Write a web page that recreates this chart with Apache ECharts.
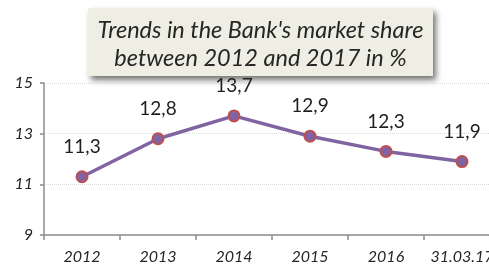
<!DOCTYPE html>
<html>
<head>
<meta charset="utf-8">
<script src="https://cdn.jsdelivr.net/npm/echarts@6/dist/echarts.min.js"></script>
<style>
  html, body { margin: 0; padding: 0; background: #fff; }
  #chart { width: 489px; height: 267px; }
</style>
</head>
<body>
<div id="chart"></div>
<script>
  const categories = ['2012', '2013', '2014', '2015', '2016', '31.03.17'];
  const shareValues = [11.3, 12.8, 13.7, 12.9, 12.3, 11.9];
  const yTicks = [9, 11, 13, 15];
  const titleLines = ["Trends in the Bank's market share", 'between 2012 and 2017 in %'];

  const chart = echarts.init(document.getElementById('chart'));

  chart.setOption({
    animation: false,
    textStyle: { fontFamily: 'Lato' },
    grid: { left: 44, width: 456, top: 83, height: 152, containLabel: false, outerBoundsMode: 'none' },
    xAxis: {
      type: 'category',
      data: categories,
      boundaryGap: true,
      axisLine: { lineStyle: { color: '#8c8c8c', width: 1.5 } },
      axisTick: { show: true, length: 5, lineStyle: { color: '#8c8c8c', width: 1.5 } },
      axisLabel: { interval: 0, hideOverlap: false, fontStyle: 'italic', fontSize: 16, color: '#262626', margin: 14 },
      splitLine: { show: false }
    },
    yAxis: {
      type: 'value',
      min: yTicks[0],
      max: yTicks[yTicks.length - 1],
      interval: 2,
      axisLine: { show: true, lineStyle: { color: '#8c8c8c', width: 1.5 } },
      axisTick: { show: true, inside: false, length: 4, lineStyle: { color: '#8c8c8c', width: 1.5 } },
      axisLabel: { fontStyle: 'italic', fontSize: 16, color: '#262626', margin: 11 },
      splitLine: { show: true, lineStyle: { color: '#d9d9d9', type: 'dotted', width: 1 } }
    },
    series: [{
      type: 'line',
      data: shareValues,
      symbol: 'circle',
      symbolSize: 11,
      lineStyle: { color: '#8064a2', width: 3.5 },
      itemStyle: { color: '#7f63a4', borderColor: '#c0504d', borderWidth: 2 },
      label: {
        show: true,
        position: 'top',
        distance: 14,
        fontSize: 19,
        color: '#1f1f1f',
        formatter: (p) => String(p.value).replace('.', ',')
      },
      z: 3
    }],
    graphic: [{
      type: 'group',
      left: 88,
      top: 8,
      z: 10,
      children: [{
        type: 'rect',
        shape: { x: 0, y: 0, width: 345, height: 68 },
        style: {
          fill: '#eeeee4',
          shadowBlur: 6,
          shadowOffsetX: 3,
          shadowOffsetY: 4,
          shadowColor: 'rgba(0,0,0,0.55)'
        }
      }, {
        type: 'text',
        x: 172.5,
        y: 36,
        style: {
          text: titleLines.join('\n'),
          align: 'center',
          verticalAlign: 'middle',
          fontFamily: 'Lato',
          fontStyle: 'italic',
          fontSize: 23.5,
          lineHeight: 28,
          fill: '#262626'
        }
      }]
    }]
  });
</script>
</body>
</html>
